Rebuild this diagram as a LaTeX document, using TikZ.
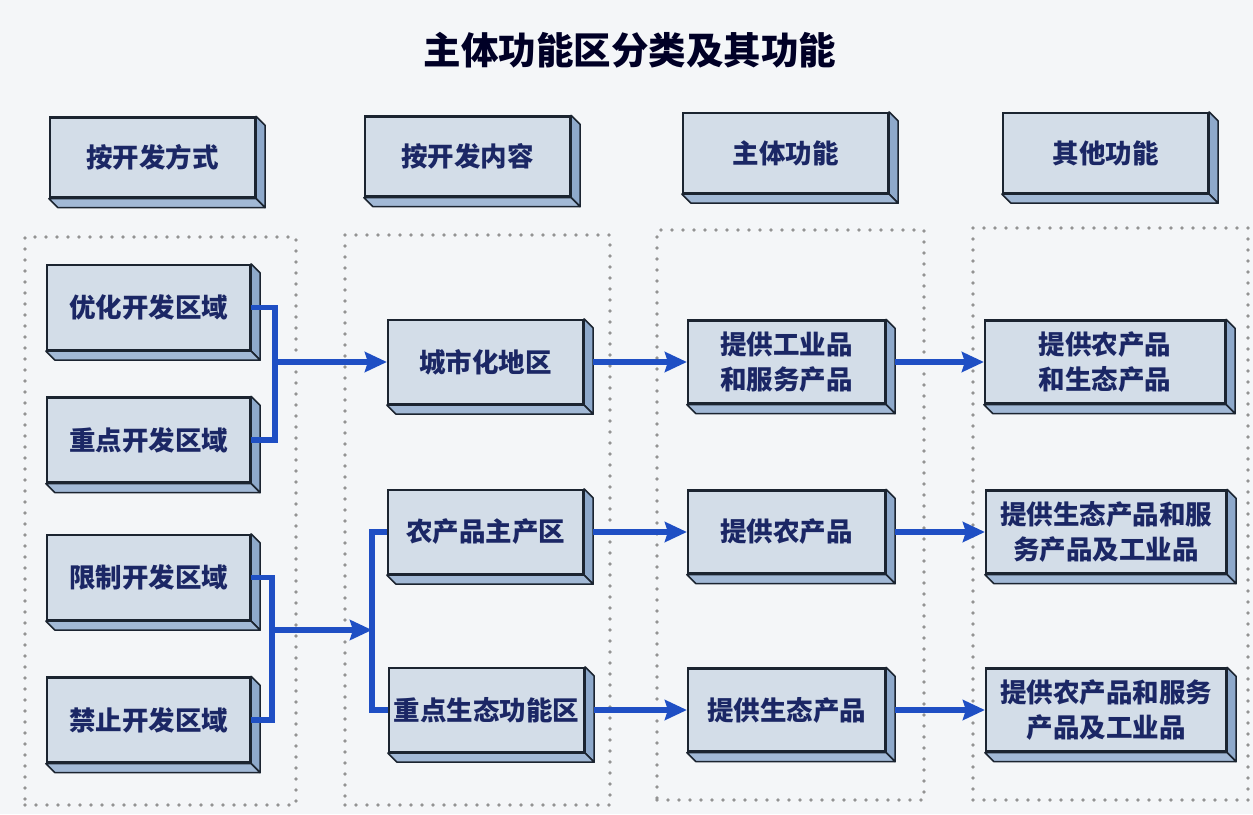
\documentclass[tikz,border=0pt]{standalone}
\usepackage{fontspec}
\setmainfont{Noto Sans CJK SC}
\usepackage{tikz}
\usetikzlibrary{arrows.meta,calc}
\definecolor{paper}{HTML}{F4F6F8}
\definecolor{face}{HTML}{D3DDE8}
\definecolor{sidec}{HTML}{8EA9CB}
\definecolor{basec}{HTML}{A2B9D6}
\definecolor{rim}{HTML}{1B2430}
\definecolor{ink}{HTML}{1B2765}
\definecolor{flow}{HTML}{1F4FC4}

\begin{document}
\begin{tikzpicture}[x=1pt,y=-1pt,
	blk/.style={draw=rim, line width=2.2pt, fill=face, text=ink, align=center,
		font=\fontsize{26.5}{35}\selectfont\bfseries, inner sep=0pt},
	head/.style={blk, minimum width=205pt, minimum height=80pt},
	grp/.style={draw=gray!85, line width=3.8pt, line cap=round,
		dash pattern=on 0pt off 11pt, inner sep=0pt},
	link/.style={draw=flow, line width=5.5pt},
	arr/.style={link, -{Stealth[length=22pt,width=20pt,inset=3pt]}}]
	\fill[paper] (0,0) rectangle (1253,814);
	\useasboundingbox (0,0) rectangle (1253,814);
	\node[text=black!85!blue, font=\fontsize{37.5}{40}\selectfont\bfseries] (title) at (630,50) {主体功能区分类及其功能};
	% dotted groups
	\node[grp, minimum width=271pt, minimum height=568pt] (g1) at (160.5,521) {};
	\node[grp, minimum width=265pt, minimum height=570pt] (g2) at (477.5,520) {};
	\node[grp, minimum width=267pt, minimum height=570pt] (g3) at (790.5,515) {};
	\node[grp, minimum width=275pt, minimum height=572pt] (g4) at (1110.5,514) {};
	% headers
	\node[head] (h1) at (152.5,157.5) {按开发方式};
	\node[head] (h2) at (467.5,156.5) {按开发内容};
	\node[head] (h3) at (785.5,153) {主体功能};
	\node[head] (h4) at (1105.5,153) {其他功能};
	% by development mode
	\tikzset{modebox/.style={blk, minimum width=203pt, minimum height=85pt}}
	\node[modebox] (o1) at (148.5,307.5) {优化开发区域};
	\node[modebox] (o2) at (148.5,440) {重点开发区域};
	\node[modebox] (r1) at (148.5,577.5) {限制开发区域};
	\node[modebox] (r2) at (148.5,720) {禁止开发区域};
	% by development content
	\tikzset{contbox/.style={blk, minimum width=195pt, minimum height=84pt}}
	\node[contbox] (urb) at (485.5,362) {城市化地区};
	\node[contbox] (agr) at (485.5,532) {农产品主产区};
	\node[contbox] (eco) at (486.5,710) {重点生态功能区};
	% main function
	\tikzset{funbox/.style={blk, minimum width=197pt, minimum height=83pt}}
	\node[funbox] (f1) at (786.5,362) {提供工业品\\和服务产品};
	\node[funbox] (f2) at (786.5,532) {提供农产品};
	\node[funbox] (f3) at (786.5,710) {提供生态产品};
	% other function
	\tikzset{othbox/.style={blk, minimum width=240pt, minimum height=83pt}}
	\node[othbox] (x1) at (1105,362) {提供农产品\\和生态产品};
	\node[othbox] (x2) at (1106,532) {提供生态产品和服\\务产品及工业品};
	\node[othbox] (x3) at (1106,710) {提供农产品和服务\\产品及工业品};
	% box depth
	\foreach \n in {h1,h2,h3,h4,o1,o2,r1,r2,urb,agr,eco,f1,f2,f3,x1,x2,x3} {
		\filldraw[fill=sidec, draw=rim, line width=1.6pt, line join=round]
			(\n.north east) -- ++(9,9) -- ($(\n.south east)+(9,9)$) -- (\n.south east) -- cycle;
		\filldraw[fill=basec, draw=rim, line width=1.6pt, line join=round]
			(\n.south west) -- (\n.south east) -- ++(9,9) -- ($(\n.south west)+(9,9)$) -- cycle;
	}
	% connectors
	\coordinate (j1) at (275,362);
	\coordinate (j2) at (272,630);
	\coordinate (k) at (372,630);
	\draw[link] (o1.east) -| (j1) |- (o2.east);
	\draw[arr] (j1) -- (urb.west);
	\draw[link] (r1.east) -| (j2) |- (r2.east);
	\draw[arr] (j2) -- (k);
	\draw[link] (agr.west) -| (k) |- (eco.west);
	\draw[arr] ($(urb.east)+(9,0)$) -- (f1.west);
	\draw[arr] ($(agr.east)+(9,0)$) -- (f2.west);
	\draw[arr] ($(eco.east)+(9,0)$) -- (f3.west);
	\draw[arr] ($(f1.east)+(9,0)$) -- (x1.west);
	\draw[arr] ($(f2.east)+(9,0)$) -- (x2.west);
	\draw[arr] ($(f3.east)+(9,0)$) -- (x3.west);
\end{tikzpicture}
\end{document}
